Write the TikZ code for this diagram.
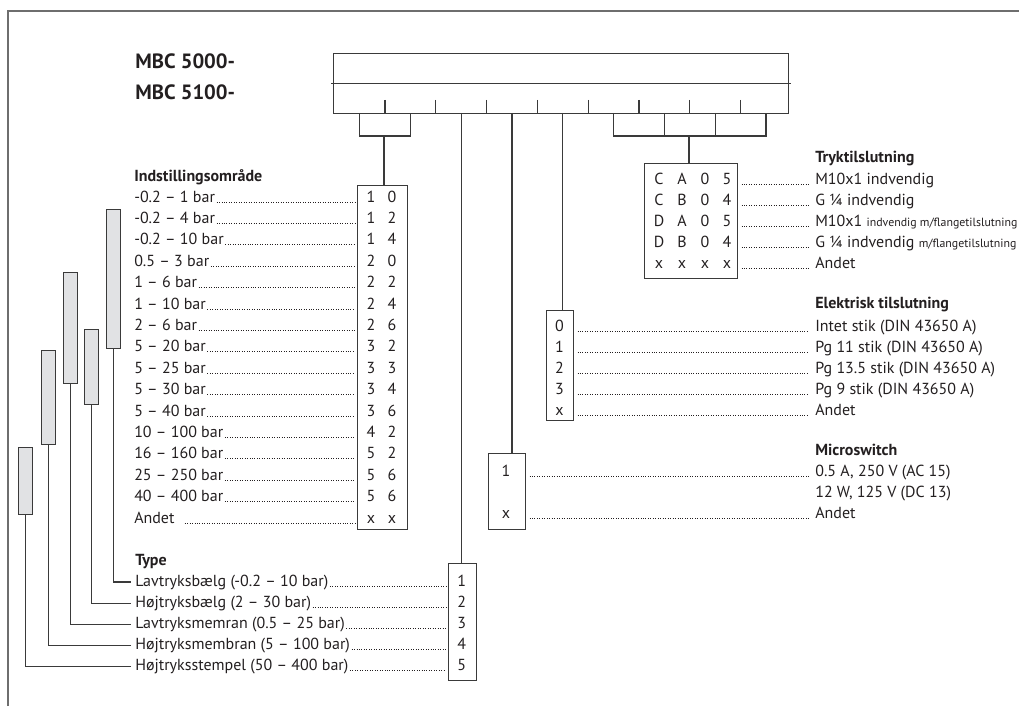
\documentclass[tikz,border=0pt]{standalone}
\usepackage{fontspec}
\setmainfont{PT Sans}
\usetikzlibrary{positioning}
\definecolor{ink}{HTML}{231F20}
\definecolor{rule}{HTML}{3A3A3A}
\definecolor{frame}{HTML}{6E6E6E}
\definecolor{barfill}{HTML}{E1E2E4}
\tikzset{
  txt/.style={inner sep=0pt, text=ink, anchor=base west, font=\fontsize{12}{14}\selectfont},
  head/.style={txt, font=\fontsize{12}{14}\selectfont\bfseries},
  title/.style={txt, font=\fontsize{15.5}{18}\selectfont\bfseries},
  digit/.style={inner sep=0pt, text=ink, anchor=base, font=\fontsize{12}{14}\selectfont},
  leader/.style={ink, line width=0.75pt, dash pattern=on 0.75pt off 1.1pt},
  link/.style={rule, line width=0.9pt},
  codebox/.style={draw=rule, line width=0.9pt, inner sep=0pt, anchor=north west},
  bar/.style={draw=rule, line width=0.9pt, fill=barfill, inner sep=0pt, anchor=north west, minimum width={14*0.75pt}},
}
\begin{document}
\begin{tikzpicture}[x=0.75pt,y=-0.75pt]
  \useasboundingbox (0,0) rectangle (1019,706);
  %frame------------------------------------
  \draw[frame, line width=1.1pt] (8,706) -- (8,11) -- (1019,11);
  \node[title] (mbc1) at (135,69) {MBC 5000-};
  \node[title] (mbc2) at (135,100) {MBC 5100-};

  %code box---------------------------------
  \node[codebox, minimum width={455*0.75pt}, minimum height={60*0.75pt}] (code) at (333,53) {};
  \draw[link] ([xshift=-1.5pt]code.west) -- ([xshift=1.5pt]code.east); %middle line
  \foreach \i in {0,...,7}
    \draw[link] (385+50.8*\i,100) -- (385+50.8*\i,113); %ticks
  \foreach \j in {1,...,9}
    \coordinate (s\j) at (359.6+50.8*\j-50.8,113); %slots
  \coordinate (br1) at (384,136);
  \coordinate (br2) at (689,136);
  \draw[link] (s1) -- ++(0,23) -| (s2); %bracket 1
  \draw[link] (s6) -- ++(0,23) -| (s9); %bracket 2
  \draw[link] (s7) -- ++(0,23);
  \draw[link] (s8) -- ++(0,23);

  %Indstillingsomraade----------------------
  \node[head] (indhead) at (134,181) {Indstillingsområde};
  \node[codebox, minimum width={50*0.75pt}, minimum height={344*0.75pt}] (indbox) at (357,184.7) {};
  \draw[link] (br1) -- (br1 |- indbox.north);
  \foreach \t/\a/\b [count=\i] in {-0.2 – 1 bar/1/0, -0.2 – 4 bar/1/2, -0.2 – 10 bar\ /1/4,
      0.5 – 3 bar/2/0, 1 – 6 bar\ /2/2, 1 – 10 bar/2/4, 2 – 6 bar\ /2/6, 5 – 20 bar/3/2,
      5 – 25 bar/3/3, 5 – 30 bar/3/4, 5 – 40 bar/3/6, 10 – 100 bar/4/2, 16 – 160 bar/5/2,
      25 – 250 bar/5/6, 40 – 400 bar/5/6, Andet\ \ \ /x/x}{
    \node[txt] (ind\i) at (134,{202+21.4*(\i-1)}) {\t};
    \node[digit] (inda\i) at (371,{202+21.4*(\i-1)}) {\a};
    \node[digit] (indb\i) at (392,{202+21.4*(\i-1)}) {\b};
    \draw[leader] ([xshift=1pt]ind\i.base east) -- ([xshift=-1.5pt]ind\i.base east -| indbox.west);
  }

  %Type-------------------------------------
  \node[head] (typhead) at (135,565) {Type};
  \node[codebox, minimum width={27.5*0.75pt}, minimum height={117*0.75pt}] (typbox) at (448,562.5) {};
  \draw[link] (s3) -- (s3 |- typbox.north);
  \foreach \t [count=\i] in {Lavtryksbælg (-0.2 – 10 bar)\ , Højtryksbælg (2 – 30 bar),
      Lavtryksmemran (0.5 – 25 bar), Højtryksmembran (5 – 100 bar), Højtryksstempel (50 – 400 bar)\ }{
    \node[txt] (typ\i) at (135,{586+21.2*(\i-1)}) {\t};
    \node[digit] (typd\i) at (461.7,{586+21.2*(\i-1)}) {\i};
    \draw[leader] ([xshift=1pt]typ\i.base east) -- ([xshift=-1.5pt]typ\i.base east -| typbox.west);
  }

  %sensor bars------------------------------
  \node[bar, minimum height={139*0.75pt}] (barA) at (106,209) {};
  \node[bar, minimum height={75*0.75pt}] (barB) at (84,329) {};
  \node[bar, minimum height={111*0.75pt}] (barC) at (62.5,272) {};
  \node[bar, minimum height={94*0.75pt}] (barD) at (40.5,350) {};
  \node[bar, minimum height={67*0.75pt}] (barE) at (18,447) {};
  \draw[link] (barA.south) |- ([xshift=-3pt]typ1.west);
  \draw[link] (barB.south) |- ([xshift=-3pt]typ2.west);
  \draw[link] (barC.south) |- ([xshift=-3pt]typ3.west);
  \draw[link] (barD.south) |- ([xshift=-3pt]typ4.west);
  \draw[link] (barE.south) |- ([xshift=-3pt]typ5.west);

  %Tryktilslutning--------------------------
  \node[head] (trhead) at (815,162) {Tryktilslutning};
  \node[codebox, minimum width={93*0.75pt}, minimum height={115*0.75pt}] (trbox) at (644,162.7) {};
  \draw[link] (br2) -- (br2 |- trbox.north);
  \foreach \a/\b/\c/\d [count=\i] in {C/A/0/5, C/B/0/4, D/A/0/5, D/B/0/4, x/x/x/x}{
    \node[digit] (tra\i) at (659,{184+21*(\i-1)}) {\a};
    \node[digit] (trb\i) at (682,{184+21*(\i-1)}) {\b};
    \node[digit] (trc\i) at (705,{184+21*(\i-1)}) {\c};
    \node[digit] (trd\i) at (727,{184+21*(\i-1)}) {\d};
  }
  \node[txt] (tr1) at (815,184) {M10x1 indvendig};
  \node[txt] (tr2) at (815,205) {G ¼ indvendig};
  \node[txt] (tr3) at (815,226) {M10x1 {\fontsize{8.9}{10}\selectfont indvendig m/flangetilslutning}};
  \node[txt] (tr4) at (815,247) {G ¼ indvendig {\fontsize{8.9}{10}\selectfont m/flangetilslutning}};
  \node[txt] (tr5) at (815,268) {Andet};
  \foreach \i in {1,...,5}
    \draw[leader] ([xshift=2.5pt]trbox.east |- tr\i.base west) -- ([xshift=-5pt]tr\i.base west);

  %Elektrisk tilslutning--------------------
  \node[head] (elhead) at (815,308) {Elektrisk tilslutning};
  \node[codebox, minimum width={27*0.75pt}, minimum height={110*0.75pt}] (elbox) at (546,310) {};
  \draw[link] (s5) -- (s5 |- elbox.north);
  \foreach \t/\a [count=\i] in {Intet stik (DIN 43650 A)/0, Pg 11 stik (DIN 43650 A)/1,
      Pg 13.5 stik (DIN 43650 A)/2, Pg 9 stik (DIN 43650 A)/3, Andet/x}{
    \node[txt] (el\i) at (815,{331+21*(\i-1)}) {\t};
    \node[digit] (eld\i) at (559.5,{331+21*(\i-1)}) {\a};
    \draw[leader] ([xshift=2.5pt]elbox.east |- el\i.base west) -- ([xshift=-5pt]el\i.base west);
  }

  %Microswitch------------------------------
  \node[head] (mshead) at (815,455) {Microswitch};
  \node[codebox, minimum width={37.3*0.75pt}, minimum height={76*0.75pt}] (msbox) at (487.7,453) {};
  \draw[link] (s4) -- (s4 |- msbox.north);
  \node[txt] (ms1) at (815,476.5) {0.5 A, 250 V (AC 15)};
  \node[txt] (ms2) at (815,497.5) {12 W, 125 V (DC 13)};
  \node[txt] (ms3) at (815,518.5) {Andet};
  \node[digit] (msd1) at (506,476.5) {1};
  \node[digit] (msd3) at (506,518.5) {x};
  \draw[leader] ([xshift=2.5pt]msbox.east |- ms1.base west) -- ([xshift=-5pt]ms1.base west);
  \draw[leader] ([xshift=2.5pt]msbox.east |- ms3.base west) -- ([xshift=-5pt]ms3.base west);
\end{tikzpicture}
\end{document}
